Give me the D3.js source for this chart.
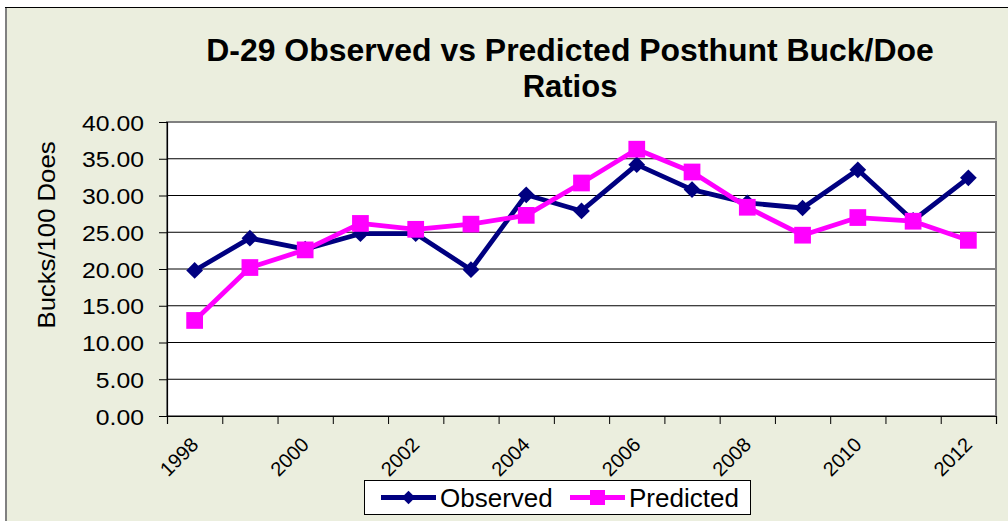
<!DOCTYPE html>
<html>
<head>
<meta charset="utf-8">
<script src="https://cdn.jsdelivr.net/npm/d3@7/dist/d3.min.js"></script>
<style>
  html, body { margin: 0; padding: 0; background: #ffffff; }
  svg { display: block; }
  text { font-family: "Liberation Sans", Arial, sans-serif; fill: #000; }
</style>
</head>
<body>
<svg id="chart" width="1008" height="521"></svg>
<script>
// ---- data ----
const years = [1998, 1999, 2000, 2001, 2002, 2003, 2004, 2005, 2006, 2007, 2008, 2009, 2010, 2011, 2012];
const observed = [19.8, 24.2, 22.7, 24.8, 24.8, 19.9, 30.1, 27.9, 34.2, 30.8, 29.0, 28.3, 33.5, 26.6, 32.4];
const predicted = [13.0, 20.2, 22.6, 26.2, 25.4, 26.1, 27.3, 31.7, 36.3, 33.2, 28.4, 24.6, 27.0, 26.5, 23.9];
const yTicks = [0, 5, 10, 15, 20, 25, 30, 35, 40];
const xTickLabels = ["1998", "2000", "2002", "2004", "2006", "2008", "2010", "2012"];
const seriesNames = ["Observed", "Predicted"];
const titleLines = ["D-29 Observed vs Predicted Posthunt Buck/Doe", "Ratios"];
const yAxisTitle = "Bucks/100 Does";

// ---- layout / style ----
const W = 1008, H = 521;
const P = { left: 167, right: 996, top: 122, bottom: 416 };
const colors = { Observed: "#000080", Predicted: "#FF00FF" };
const bg = "#EBEEDE";

const svg = d3.select("#chart");

function stretch(sel, factor) {
  sel.each(function () {
    const len = this.getComputedTextLength();
    d3.select(this).attr("textLength", len * factor).attr("lengthAdjust", "spacingAndGlyphs");
  });
}

// chart area background + border
svg.append("rect").attr("x", 0).attr("y", 0).attr("width", W).attr("height", H).attr("fill", "#ffffff");
svg.append("rect").attr("x", 6).attr("y", 8).attr("width", W).attr("height", H).attr("fill", bg);
svg.append("line").attr("x1", 5).attr("x2", W).attr("y1", 7.5).attr("y2", 7.5).attr("stroke", "#000").attr("stroke-width", 1);
svg.append("line").attr("x1", 6).attr("x2", 6).attr("y1", 8).attr("y2", H).attr("stroke", "#808080").attr("stroke-width", 2);

// scales
const x = d3.scaleBand().domain(years).range([P.left, P.right]).padding(0);
const xIdx = d3.scaleLinear().domain([0, years.length]).range([P.left, P.right]);
const y = d3.scaleLinear().domain([0, 40]).range([P.bottom, P.top]);
const cx = d => x(d) + x.bandwidth() / 2;

// plot area
svg.append("rect").attr("x", P.left).attr("y", P.top)
  .attr("width", P.right - P.left).attr("height", P.bottom - P.top)
  .attr("fill", "#ffffff");

// gridlines
svg.append("g").selectAll("line").data(yTicks.filter(t => t > 0 && t < 40)).join("line")
  .attr("x1", P.left).attr("x2", P.right)
  .attr("y1", d => y(d)).attr("y2", d => y(d))
  .attr("stroke", "#000").attr("stroke-width", 1);

// plot border (gray)
svg.append("rect").attr("x", P.left).attr("y", P.top)
  .attr("width", P.right - P.left).attr("height", P.bottom - P.top)
  .attr("fill", "none").attr("stroke", "#808080").attr("stroke-width", 2);

// y axis
const yAxis = svg.append("g").attr("transform", `translate(${P.left},0)`)
  .call(d3.axisLeft(y).tickValues(yTicks).tickFormat(d3.format(".2f")).tickSize(8).tickPadding(15));
yAxis.select(".domain").attr("stroke", "#000").attr("stroke-width", 1.2);
yAxis.selectAll(".tick line").attr("stroke", "#000").attr("stroke-width", 1);
yAxis.selectAll(".tick text").attr("font-size", 22.5).attr("font-family", "Liberation Sans, Arial, sans-serif")
  .attr("fill", "#000").attr("dy", "0.36em");
stretch(yAxis.selectAll(".tick text"), 1.1);

// x axis (category boundary ticks)
const xAxis = svg.append("g").attr("transform", `translate(0,${P.bottom})`)
  .call(d3.axisBottom(xIdx).tickValues(d3.range(years.length + 1)).tickFormat("").tickSize(8));
xAxis.select(".domain").attr("stroke", "#000").attr("stroke-width", 1.2);
xAxis.selectAll(".tick line").attr("stroke", "#000").attr("stroke-width", 1);

// x tick labels (rotated)
svg.append("g").selectAll("text").data(xTickLabels).join("text")
  .attr("transform", d => `translate(${cx(+d) + 5},${P.bottom + 30}) rotate(-45)`)
  .attr("text-anchor", "end")
  .attr("font-size", 20)
  .text(d => d);

// y axis title
svg.append("text")
  .attr("transform", `translate(55,${(P.top + P.bottom) / 2 - 34}) rotate(-90)`)
  .attr("text-anchor", "middle")
  .attr("font-size", 24)
  .text(yAxisTitle)
  .call(s => stretch(s, 1.07));

// title
const titleText = svg.append("g");
titleText.append("text").attr("x", 570).attr("y", 61).attr("text-anchor", "middle")
  .attr("font-size", 31).attr("font-weight", "bold").text(titleLines[0])
  .call(s => stretch(s, 1.03));
titleText.append("text").attr("x", 570).attr("y", 97).attr("text-anchor", "middle")
  .attr("font-size", 31).attr("font-weight", "bold").text(titleLines[1])
  .call(s => stretch(s, 1.0));

// series
const line = d3.line().x(d => cx(d.year)).y(d => y(d.value));
const seriesData = [
  { name: "Observed", values: years.map((yr, i) => ({ year: yr, value: observed[i] })) },
  { name: "Predicted", values: years.map((yr, i) => ({ year: yr, value: predicted[i] })) }
];
const diamond = d3.symbol(d3.symbolSquare, 140);
const square = d3.symbol(d3.symbolSquare, 280);

seriesData.forEach(s => {
  const g = svg.append("g");
  g.append("path").datum(s.values).attr("d", line)
    .attr("fill", "none").attr("stroke", colors[s.name]).attr("stroke-width", 4.8)
    .attr("stroke-linejoin", "round");
  g.selectAll("path.m").data(s.values).join("path").attr("class", "m")
    .attr("d", s.name === "Observed" ? diamond : square)
    .attr("transform", d => `translate(${cx(d.year)},${y(d.value)})` + (s.name === "Observed" ? " rotate(45)" : ""))
    .attr("fill", colors[s.name]);
});

// legend
const lg = svg.append("g");
lg.append("rect").attr("x", 364.5).attr("y", 480.5).attr("width", 386).attr("height", 34)
  .attr("fill", "#ffffff").attr("stroke", "#000").attr("stroke-width", 1);
const legendItems = [
  { name: seriesNames[0], x0: 381, x1: 436, tx: 440 },
  { name: seriesNames[1], x0: 570, x1: 625, tx: 629 }
];
legendItems.forEach(it => {
  const ly = 497.5;
  lg.append("line").attr("x1", it.x0).attr("x2", it.x1).attr("y1", ly).attr("y2", ly)
    .attr("stroke", colors[it.name]).attr("stroke-width", 4.8);
  lg.append("path")
    .attr("d", it.name === "Observed" ? d3.symbol(d3.symbolSquare, 90)() : d3.symbol(d3.symbolSquare, 225)())
    .attr("transform", `translate(${(it.x0 + it.x1) / 2},${ly})` + (it.name === "Observed" ? " rotate(45)" : ""))
    .attr("fill", colors[it.name]);
  lg.append("text").attr("x", it.tx).attr("y", 507).attr("font-size", 26).text(it.name);
});
</script>
</body>
</html>
